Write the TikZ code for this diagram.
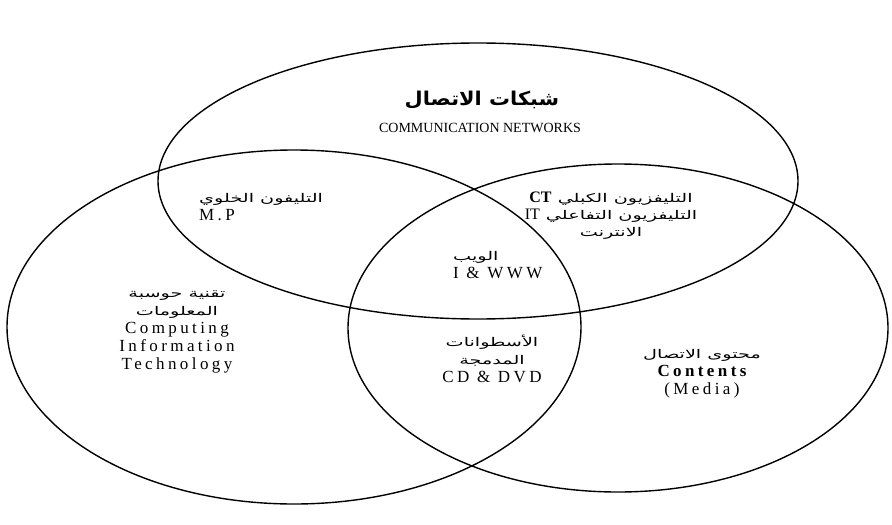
\documentclass[tikz,border=0pt]{standalone}
\usepackage{fontspec}
\setmainfont{Liberation Serif}
\newfontfamily\spacedrm[LetterSpace=20]{Liberation Serif}
\newfontfamily\arabicfont[Script=Arabic, FakeStretch=1.1]{DejaVu Sans}
\newfontfamily\arabicwide[Script=Arabic, FakeStretch=1.6]{DejaVu Sans}
\TeXXeTstate=1

\begin{document}
\begin{tikzpicture}[x=1pt, y=-1pt,
    set/.style={draw=black, line width=1.4pt},
    lbl/.style={align=center, inner sep=1pt, font=\spacedrm\fontsize{17}{18}\selectfont},
    arb/.style={font=\arabicwide\fontsize{12}{17}\selectfont},
]
\useasboundingbox (0,0) rectangle (892,525);

% the three sets
\draw[set] (478,181) ellipse [x radius=320, y radius=138];
\draw[set] (294,327) ellipse [x radius=287, y radius=177];
\draw[set] (618,328) ellipse [x radius=270, y radius=164];

% labels
\node[inner sep=1pt, font=\arabicfont\bfseries\fontsize{19}{22}\selectfont] (netAR) at (482,100) {\beginR شبكات الاتصال\endR};
\node[inner sep=1pt, font=\rmfamily\fontsize{14}{17}\selectfont] (netEN) at (480,128) {COMMUNICATION NETWORKS};

\node[lbl, align=left, anchor=west] (MP) at (198,207)
  {{\arabicwide\fontsize{12}{15}\selectfont\beginR التليفون الخلوي\endR}\\M.P};

\node[lbl, arb] (CT) at (611,216)
  {\beginR التليفزيون الكبلي \beginL{\rmfamily\bfseries\fontsize{16}{17}\selectfont CT}\endL\endR\\
   \beginR التليفزيون التفاعلي \beginL{\rmfamily\fontsize{16}{17}\selectfont IT}\endL\endR\\
   \beginR الانترنت\endR};

\node[lbl, align=left, anchor=west] (WWW) at (452,265)
  {{\arabicwide\fontsize{12}{15}\selectfont\beginR الويب\endR}\\I \& WWW};

\node[lbl] (CIT) at (177,332)
  {{\arabicwide\fontsize{12}{17}\selectfont\beginR تقنية حوسبة\endR}\\
   {\arabicwide\fontsize{12}{17}\selectfont\beginR المعلومات\endR}\\
   Computing\\Information\\Technology};

\node[lbl] (CD) at (492,359)
  {{\arabicwide\fontsize{12}{17}\selectfont\beginR الأسطوانات\endR}\\
   {\arabicwide\fontsize{12}{17}\selectfont\beginR المدمجة\endR}\\
   CD \& DVD};

\node[lbl] (MEDIA) at (702,374)
  {{\arabicwide\fontsize{12}{17}\selectfont\beginR محتوى الاتصال\endR}\\
   {\bfseries Contents}\\(Media)};
\end{tikzpicture}
\end{document}
